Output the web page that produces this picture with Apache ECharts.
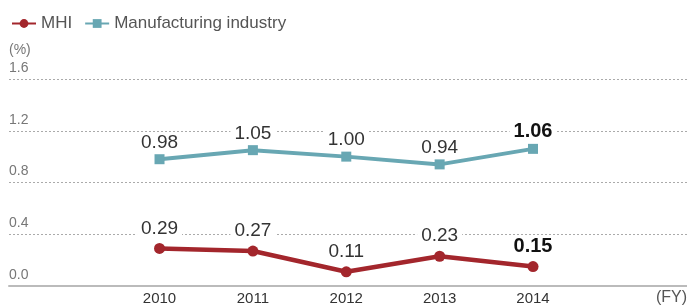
<!DOCTYPE html>
<html>
<head>
<meta charset="utf-8">
<script src="https://cdn.jsdelivr.net/npm/echarts@6/dist/echarts.min.js"></script>
<style>
  html, body { margin: 0; padding: 0; background: #fff; }
  #chart { width: 687px; height: 307px; }
</style>
</head>
<body>
<div id="chart"></div>
<script>
// data
const years = [2010, 2011, 2012, 2013, 2014]
const mhi = [0.29, 0.27, 0.11, 0.23, 0.15]
const manufacturing = [0.98, 1.05, 1.00, 0.94, 1.06]
const yTicks = [0, 0.4, 0.8, 1.2, 1.6]

const plain = '"Liberation Sans", Arial, sans-serif'

// last point gets the bold black label
function toPoints(values) {
  return values.map((v, i) => {
    const item = { value: [years[i], v] }
    if (i === values.length - 1) {
      item.label = { fontWeight: 'bold', color: '#111', fontSize: 20 }
    }
    return item
  })
}

const chart = echarts.init(document.getElementById('chart'))

const valueLabel = {
  show: true,
  position: 'top',
  distance: 5,
  fontFamily: plain,
  fontSize: 19,
  color: '#333',
  backgroundColor: '#fff',
  padding: [0, 4, 0, 4],
  formatter: p => p.value[1].toFixed(2)
}

chart.setOption({
  animation: false,
  legend: {
    left: 6,
    top: 10,
    itemWidth: 24,
    itemHeight: 11,
    itemGap: 12,
    textStyle: { fontFamily: plain, fontSize: 17, color: '#555' },
    data: ['MHI', 'Manufacturing industry']
  },
  grid: { left: 9, right: 0, top: 79, bottom: 21, containLabel: false },
  xAxis: {
    type: 'value',
    min: 2008.388,
    max: 2015.649,
    splitLine: { show: false },
    axisTick: { show: false },
    axisLine: { show: true, lineStyle: { color: '#bbb', width: 2 } },
    axisLabel: {
      customValues: years,
      margin: 5,
      fontFamily: plain,
      fontSize: 15,
      color: '#333',
      formatter: v => String(v)
    }
  },
  yAxis: {
    type: 'value',
    min: 0,
    max: 1.6,
    interval: 0.4,
    name: '(%)',
    nameLocation: 'end',
    nameGap: 22,
    nameTextStyle: { align: 'left', fontFamily: plain, fontSize: 14, color: '#777' },
    axisLine: { show: false },
    axisTick: { show: false },
    splitLine: { show: true, lineStyle: { color: '#aaa', type: [2, 2], width: 1 } },
    axisLabel: {
      inside: true,
      margin: 0,
      verticalAlign: 'bottom',
      padding: [0, 0, 4, 0],
      fontFamily: plain,
      fontSize: 14,
      color: '#777',
      customValues: yTicks,
      formatter: v => v.toFixed(1)
    }
  },
  graphic: [
    {
      type: 'text',
      right: 0,
      top: 290,
      style: { text: '(FY)', font: '16px "Liberation Sans", Arial, sans-serif', fill: '#555' }
    }
  ],
  series: [
    {
      name: 'MHI',
      type: 'line',
      data: toPoints(mhi),
      symbol: 'circle',
      symbolSize: 11,
      color: '#a3262c',
      lineStyle: { width: 4.5, color: '#a3262c' },
      itemStyle: { color: '#a3262c' },
      label: valueLabel,
      z: 3
    },
    {
      name: 'Manufacturing industry',
      type: 'line',
      data: toPoints(manufacturing),
      symbol: 'rect',
      symbolSize: 10,
      color: '#68a7b3',
      lineStyle: { width: 4, color: '#68a7b3' },
      itemStyle: { color: '#68a7b3' },
      label: { ...valueLabel, distance: 2 },
      z: 3
    }
  ]
})
</script>
</body>
</html>
